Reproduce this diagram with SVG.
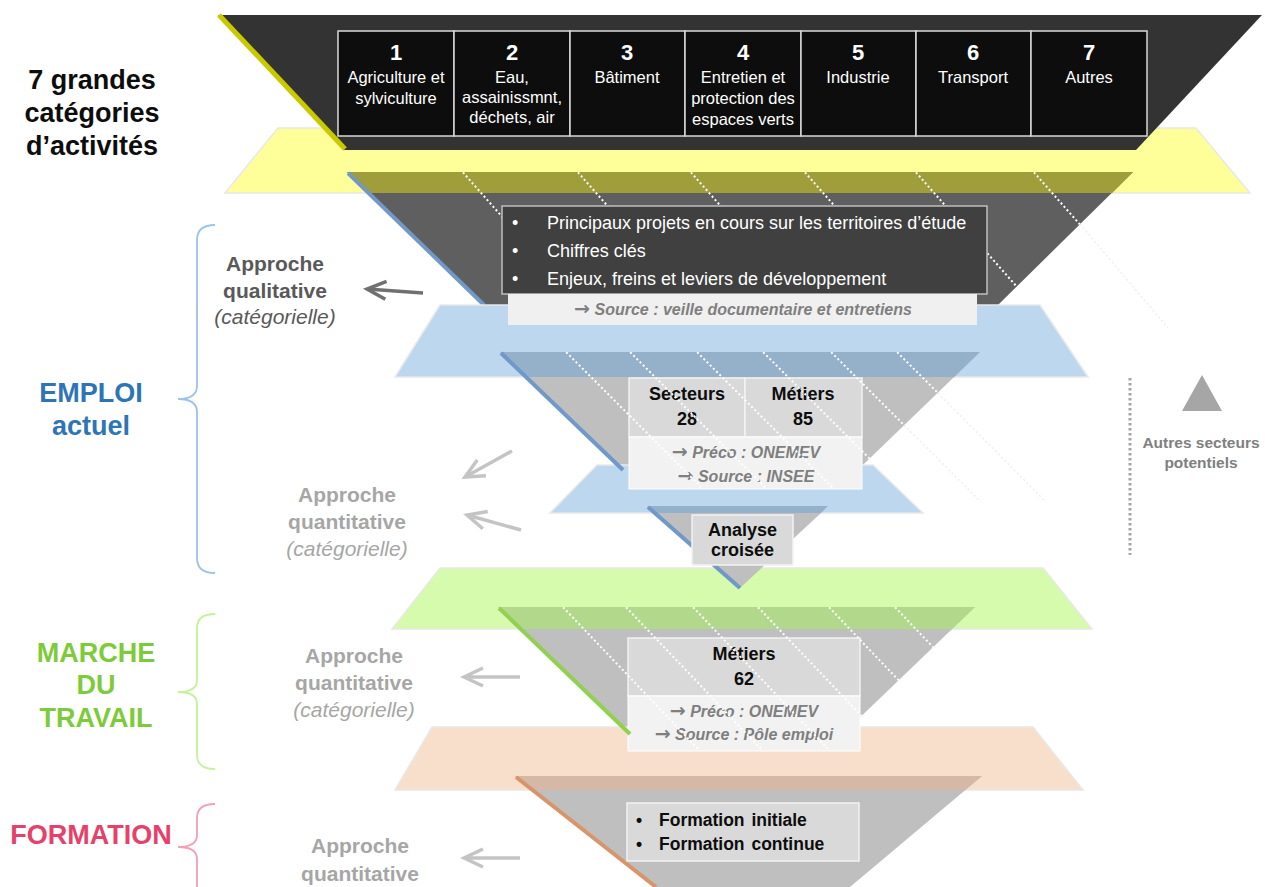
<svg xmlns="http://www.w3.org/2000/svg" width="1265" height="887" viewBox="0 0 1265 887">
<style>
text{font-family:"Liberation Sans",Arial,sans-serif}
.b{font-weight:bold}
.i{font-style:italic}
.c{text-anchor:middle}
.ar{font-family:"DejaVu Sans",sans-serif;font-style:normal;font-weight:bold;font-size:19px}
.band{stroke:#e8e8e8;stroke-width:1.5}
.gray{fill:#bfbfbf}
.dots{stroke:#ffffff;stroke-width:2;stroke-dasharray:2 2.5;fill:none}
.faint{stroke:#eeeeee;stroke-width:1.5;stroke-dasharray:2 2.5;fill:none}
.cat{fill:#0d0d0d;stroke:#d9d9d9;stroke-width:1.5}
.num{font-size:22px;font-weight:bold;fill:#fff;text-anchor:middle}
.cl{font-size:16.5px;fill:#fff;text-anchor:middle}
.big{font-size:27px;font-weight:bold;text-anchor:middle}
.ap{font-size:21px;text-anchor:middle}
.src{font-size:16px;font-weight:bold;font-style:italic;fill:#7f7f7f;text-anchor:middle}
.blk{font-size:18px;font-weight:bold;fill:#0d0d0d;text-anchor:middle}
.brace{fill:none;stroke-width:1.8}
.arr{fill:none;stroke-width:3.5}
</style>
<defs>
<marker id="ahd" markerUnits="userSpaceOnUse" viewBox="-24 -14 28 28" refX="0" refY="0" markerWidth="28" markerHeight="28" orient="auto"><path d="M-19,-9 L0,0 L-19,9" fill="none" stroke="#707070" stroke-width="3.5"/></marker>
<marker id="ahl" markerUnits="userSpaceOnUse" viewBox="-24 -14 28 28" refX="0" refY="0" markerWidth="28" markerHeight="28" orient="auto"><path d="M-19,-9 L0,0 L-19,9" fill="none" stroke="#c4c4c4" stroke-width="3.5"/></marker>
<clipPath id="cf2"><polygon points="347,172 1133,172 998,305 483,305"/></clipPath>
<clipPath id="cf3"><polygon points="500,352 980,352 838,489 642,489"/></clipPath>
<clipPath id="cf5"><polygon points="498,607 975,607 825,751 646,751"/></clipPath>
</defs>

<g id="layer-categories">
<polygon class="band" points="278,128 1196,128 1250,193 225,193" fill="#ffff99"/>
<polygon points="218,15 1262,15 1136,150 344,150" fill="#333333"/>
<line x1="219" y1="15" x2="345" y2="149" stroke="#c9c900" stroke-width="5"/>
</g>

<g id="cat-1"><rect class="cat" x="338" y="31" width="116" height="105"/><text class="num" x="396" y="60">1</text><text class="cl" x="396" y="83">Agriculture et</text><text class="cl" x="396" y="104">sylviculture</text></g>
<g id="cat-2"><rect class="cat" x="454" y="31" width="116" height="105"/><text class="num" x="512" y="60">2</text><text class="cl" x="512" y="83">Eau,</text><text class="cl" x="512" y="103">assainissmnt,</text><text class="cl" x="512" y="123">déchets, air</text></g>
<g id="cat-3"><rect class="cat" x="570" y="31" width="115" height="105"/><text class="num" x="627" y="60">3</text><text class="cl" x="627" y="83">Bâtiment</text></g>
<g id="cat-4"><rect class="cat" x="685" y="31" width="116" height="105"/><text class="num" x="743" y="60">4</text><text class="cl" x="743" y="83">Entretien et</text><text class="cl" x="743" y="104">protection des</text><text class="cl" x="743" y="125">espaces verts</text></g>
<g id="cat-5"><rect class="cat" x="801" y="31" width="115" height="105"/><text class="num" x="858" y="60">5</text><text class="cl" x="858" y="83">Industrie</text></g>
<g id="cat-6"><rect class="cat" x="916" y="31" width="115" height="105"/><text class="num" x="973" y="60">6</text><text class="cl" x="973" y="83">Transport</text></g>
<g id="cat-7"><rect class="cat" x="1031" y="31" width="116" height="105"/><text class="num" x="1089" y="60">7</text><text class="cl" x="1089" y="83">Autres</text></g>

<g id="funnel-qualitative">
<polygon points="347,172 1133,172 998,305 483,305" fill="#5f5f5f"/>
<polygon points="347,172 1133,172 1112,193 368,193" fill="#a09e3a"/>
<g clip-path="url(#cf2)" class="dots">
<line x1="460" y1="169" x2="580" y2="305"/><line x1="575" y1="169" x2="695" y2="305"/><line x1="688" y1="169" x2="808" y2="305"/><line x1="802" y1="169" x2="922" y2="305"/><line x1="913" y1="169" x2="1033" y2="305"/><line x1="1031" y1="169" x2="1151" y2="305"/>
</g>
<line class="faint" x1="1080" y1="224" x2="1168" y2="328"/>
<line x1="348" y1="173" x2="484" y2="305" stroke="#7098c8" stroke-width="4"/>
</g>

<g id="band-blue-1"><polygon class="band" points="440,305 1040,305 1088,377 395,377" fill="#bdd7ee"/></g>

<g id="box-qualitative">
<rect x="502" y="206" width="485" height="88" fill="#404040" stroke="#bfbfbf" stroke-width="1.5"/>
<g font-size="18" fill="#ffffff">
<text x="512" y="229">•</text><text x="547" y="229">Principaux projets en cours sur les territoires d’étude</text>
<text x="512" y="257">•</text><text x="547" y="257">Chiffres clés</text>
<text x="512" y="285">•</text><text x="547" y="285">Enjeux, freins et leviers de développement</text>
</g>
<rect x="508" y="294" width="469" height="31" fill="#f0f0f0"/>
<text class="src" x="743" y="315"><tspan class="ar">→</tspan> Source : veille documentaire et entretiens</text>
</g>

<g id="funnel-secteurs">
<polygon class="gray" points="500,352 980,352 838,489 642,489"/>
<polygon points="500,352 980,352 954,377 526,377" fill="#95b0c9"/>
<line class="faint" x1="938" y1="393" x2="1046" y2="502"/>
<line class="faint" x1="904" y1="425" x2="981" y2="502"/>
</g>

<g id="band-blue-2"><polygon class="band" points="597,465 873,465 923,513 550,513" fill="#bdd7ee"/></g>

<g id="box-secteurs">
<rect x="629" y="378" width="116" height="59" fill="#d9d9d9" stroke="#f2f2f2" stroke-width="1.5"/>
<rect x="745" y="378" width="117" height="59" fill="#d9d9d9" stroke="#f2f2f2" stroke-width="1.5"/>
<rect x="629" y="437" width="233" height="52" fill="#f2f2f2" stroke="#ffffff" stroke-width="1"/>
<text class="blk" x="687" y="400">Secteurs</text><text class="blk" x="687" y="425">28</text>
<text class="blk" x="803" y="400">Métiers</text><text class="blk" x="803" y="425">85</text>
<text class="src" x="746" y="458"><tspan class="ar">→</tspan> Préco : ONEMEV</text>
<text class="src" x="746" y="482"><tspan class="ar">→</tspan> Source : INSEE</text>
<g clip-path="url(#cf3)" class="dots">
<line x1="563" y1="349" x2="703" y2="489"/><line x1="627" y1="349" x2="767" y2="489"/><line x1="694" y1="349" x2="834" y2="489"/><line x1="760" y1="349" x2="900" y2="489"/><line x1="828" y1="349" x2="968" y2="489"/><line x1="894" y1="349" x2="1034" y2="489"/>
</g>
<line x1="501" y1="353" x2="623" y2="470" stroke="#7098c8" stroke-width="4"/>
</g>

<g id="band-green"><polygon class="band" points="440,568 1043,568 1092,629 392,629" fill="#d6fbac"/></g>

<g id="funnel-analyse">
<polygon points="647,506 828,506 821,513 655,513" fill="#95b0c9"/>
<polygon class="gray" points="655,513 821,513 740,588"/>
<line x1="648" y1="507" x2="740" y2="588" stroke="#7098c8" stroke-width="4"/>
<rect x="692" y="515" width="101" height="50" fill="#d9d9d9" stroke="#f2f2f2" stroke-width="1.5"/>
<text class="blk" x="742.5" y="536" font-size="16.5">Analyse</text>
<text class="blk" x="742.5" y="556" font-size="16.5">croisée</text>
</g>

<g id="funnel-marche">
<polygon class="gray" points="498,607 975,607 825,751 646,751"/>
<polygon points="498,607 975,607 952,629 521,629" fill="#b2d98b"/>
</g>

<g id="band-peach"><polygon class="band" points="432,727 1033,727 1083,790 395,790" fill="#f8dfcc"/></g>

<g id="box-marche">
<rect x="628" y="638" width="232" height="58" fill="#d9d9d9" stroke="#f2f2f2" stroke-width="1.5"/>
<rect x="628" y="696" width="232" height="55" fill="#f2f2f2" stroke="#ffffff" stroke-width="1"/>
<text class="blk" x="744" y="660">Métiers</text>
<text class="blk" x="744" y="685" font-size="21">62</text>
<text class="src" x="744" y="717"><tspan class="ar">→</tspan> Préco : ONEMEV</text>
<text class="src" x="744" y="740"><tspan class="ar">→</tspan> Source : Pôle emploi</text>
<g clip-path="url(#cf5)" class="dots">
<line x1="560" y1="604" x2="698" y2="749"/><line x1="623" y1="604" x2="761" y2="749"/><line x1="690" y1="604" x2="828" y2="749"/><line x1="755" y1="604" x2="893" y2="749"/><line x1="826" y1="604" x2="964" y2="749"/><line x1="892" y1="604" x2="1030" y2="749"/>
</g>
<line x1="499" y1="608" x2="630" y2="734" stroke="#92d050" stroke-width="4"/>
</g>

<g id="funnel-formation">
<polygon class="gray" points="515,776 982,776 850,887 655,887"/>
<polygon points="515,776 982,776 965,790 533,790" fill="#d5b8a6"/>
<line x1="516" y1="777" x2="656" y2="887" stroke="#d9956a" stroke-width="4"/>
<rect x="627" y="803" width="232" height="58" fill="#d9d9d9" stroke="#f2f2f2" stroke-width="1.5"/>
<g font-size="17.5" font-weight="bold" fill="#0d0d0d">
<text x="636" y="826">•</text><text x="659" y="826" word-spacing="2">Formation initiale</text>
<text x="636" y="850">•</text><text x="659" y="850" word-spacing="2">Formation continue</text>
</g>
</g>

<g id="label-categories">
<text class="big" x="92" y="89" fill="#0d0d0d">7 grandes</text>
<text class="big" x="92" y="122" fill="#0d0d0d">catégories</text>
<text class="big" x="92" y="155" fill="#0d0d0d">d’activités</text>
</g>

<g id="label-emploi">
<text class="big" x="91" y="402" fill="#2e75b6">EMPLOI</text>
<text class="big" x="91" y="435" fill="#2e75b6">actuel</text>
<path class="brace" stroke="#9dc3e6" d="M215,225 Q197,225 197,240 L197,386 Q197,399 178,399 Q197,399 197,412 L197,558 Q197,573 215,573"/>
</g>

<g id="label-marche">
<text class="big" x="96" y="662" fill="#7dcb3a">MARCHE</text>
<text class="big" x="96" y="694" fill="#7dcb3a">DU</text>
<text class="big" x="96" y="727" fill="#7dcb3a">TRAVAIL</text>
<path class="brace" stroke="#c2f29a" d="M215,614 Q197,614 197,628 L197,680 Q197,692 178,692 Q197,692 197,704 L197,755 Q197,769 215,769"/>
</g>

<g id="label-formation">
<text class="big" x="91" y="844" fill="#e5426b">FORMATION</text>
<path class="brace" stroke="#f2a0b4" d="M215,804 Q197,804 197,818 L197,835 Q197,847 178,847 Q197,847 197,859 L197,890"/>
</g>

<g id="approach-qualitative" fill="#595959">
<text class="ap b" x="275" y="271">Approche</text>
<text class="ap b" x="275" y="298">qualitative</text>
<text class="ap i" x="275" y="324">(catégorielle)</text>
</g>
<g id="approach-quant-emploi" fill="#a6a6a6">
<text class="ap b" x="347" y="502">Approche</text>
<text class="ap b" x="347" y="529">quantitative</text>
<text class="ap i" x="347" y="556">(catégorielle)</text>
</g>
<g id="approach-quant-marche" fill="#a6a6a6">
<text class="ap b" x="354" y="663">Approche</text>
<text class="ap b" x="354" y="690">quantitative</text>
<text class="ap i" x="354" y="717">(catégorielle)</text>
</g>
<g id="approach-quant-formation" fill="#a6a6a6">
<text class="ap b" x="360" y="853">Approche</text>
<text class="ap b" x="360" y="881">quantitative</text>
</g>

<g id="other-sectors">
<line x1="1130" y1="378" x2="1130" y2="555" stroke="#a6a6a6" stroke-width="3" stroke-dasharray="2.5 2.5"/>
<polygon points="1202,375 1182,411 1222,411" fill="#a6a6a6"/>
<text class="b c" x="1201" y="448" font-size="15.5" fill="#808080">Autres secteurs</text>
<text class="b c" x="1201" y="468" font-size="15.5" fill="#808080">potentiels</text>
</g>

<g id="connectors">
<line class="arr" stroke="#707070" x1="423" y1="293" x2="367" y2="289" marker-end="url(#ahd)"/>
<line class="arr" stroke="#c4c4c4" x1="512" y1="451" x2="465" y2="477" marker-end="url(#ahl)"/>
<line class="arr" stroke="#c4c4c4" x1="521" y1="530" x2="467" y2="515" marker-end="url(#ahl)"/>
<line class="arr" stroke="#c4c4c4" x1="520" y1="677" x2="464" y2="677" marker-end="url(#ahl)"/>
<line class="arr" stroke="#c4c4c4" x1="520" y1="858" x2="464" y2="858" marker-end="url(#ahl)"/>
</g>
</svg>
